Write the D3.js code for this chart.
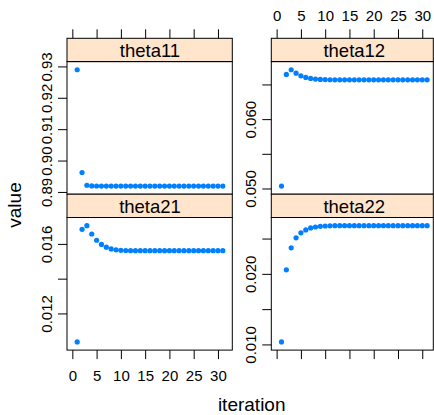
<!DOCTYPE html>
<html>
<head>
<meta charset="utf-8">
<script src="https://cdn.jsdelivr.net/npm/d3@7"></script>
<style>
    body { margin: 0; background: #ffffff; }
    svg { display: block; font-family: "Liberation Sans", Arial, Helvetica, sans-serif; }
</style>
</head>
<body>
<div id="chart"></div>
<script>
// data
const iterations = [1, 2, 3, 4, 5, 6, 7, 8, 9, 10, 11, 12, 13, 14, 15, 16,
    17, 18, 19, 20, 21, 22, 23, 24, 25, 26, 27, 28, 29, 30, 31];

const panelNames = ["theta11", "theta12", "theta21", "theta22"];

const theta11 = [0.92894, 0.89619, 0.89212, 0.89192, 0.89189, 0.89188, 0.89187, 0.89187,
    0.89187, 0.89187, 0.89187, 0.89187, 0.89187, 0.89187, 0.89187, 0.89187,
    0.89187, 0.89187, 0.89187, 0.89187, 0.89187, 0.89187, 0.89187, 0.89187,
    0.89187, 0.89187, 0.89187, 0.89187, 0.89187, 0.89187, 0.89187];
const theta12 = [0.05035, 0.06644, 0.06712, 0.06663, 0.06624, 0.06601, 0.06587, 0.06578,
    0.06573, 0.06570, 0.06568, 0.06567, 0.06566, 0.06566, 0.06566, 0.06566,
    0.06566, 0.06566, 0.06566, 0.06566, 0.06566, 0.06566, 0.06566, 0.06566,
    0.06566, 0.06566, 0.06566, 0.06566, 0.06566, 0.06566, 0.06566];
const theta21 = [0.01036, 0.01684, 0.01705, 0.01657, 0.01621, 0.01597, 0.01581, 0.01571,
    0.01566, 0.01563, 0.01562, 0.01561, 0.01561, 0.01561, 0.01561, 0.01561,
    0.01561, 0.01561, 0.01561, 0.01561, 0.01561, 0.01561, 0.01561, 0.01561,
    0.01561, 0.01561, 0.01561, 0.01561, 0.01561, 0.01561, 0.01561];
const theta22 = [0.01035, 0.02057, 0.02368, 0.02510, 0.02581, 0.02623, 0.02650, 0.02664,
    0.02673, 0.02678, 0.02681, 0.02682, 0.02683, 0.02683, 0.02683, 0.02683,
    0.02683, 0.02683, 0.02683, 0.02683, 0.02683, 0.02683, 0.02683, 0.02683,
    0.02683, 0.02683, 0.02683, 0.02683, 0.02683, 0.02683, 0.02683];

const xTicks = [0, 5, 10, 15, 20, 25, 30];
const theta11Ticks = [0.89, 0.90, 0.91, 0.92, 0.93];
const theta11Labels = [0.89, 0.90, 0.91, 0.92, 0.93];
const theta12Ticks = [0.050, 0.055, 0.060, 0.065];
const theta12Labels = [0.050, 0.060];
const theta21Ticks = [0.012, 0.014, 0.016];
const theta21Labels = [0.012, 0.016];
const theta22Ticks = [0.010, 0.015, 0.020, 0.025];
const theta22Labels = [0.010, 0.020];

const xLabelText = "iteration";
const yLabelText = "value";

// layout
const width = 434;
const height = 415;
const colX = [67, 271.3];
const colBorderWidth = [165.3, 162];
const panelWidth = 166;
const rowTop = [38.3, 194.2];
const stripHeight = 23.3;
const plotHeight = 132.6;
const tickSize = 9;
const axisPadding = 0.07;
const pointColor = "#0080ff";
const stripColor = "#ffe5cc";

const panels = [
    {name: panelNames[0], values: theta11, ticks: theta11Ticks, labels: theta11Labels, digits: 2, row: 0, col: 0},
    {name: panelNames[1], values: theta12, ticks: theta12Ticks, labels: theta12Labels, digits: 3, row: 0, col: 1},
    {name: panelNames[2], values: theta21, ticks: theta21Ticks, labels: theta21Labels, digits: 3, row: 1, col: 0},
    {name: panelNames[3], values: theta22, ticks: theta22Ticks, labels: theta22Labels, digits: 3, row: 1, col: 1}
];

function padExtent(values) {
    let ext = d3.extent(values);
    let pad = (ext[1] - ext[0]) * axisPadding;
    return [ext[0] - pad, ext[1] + pad];
}

function drawPanel(svg, panel) {
    let x0 = colX[panel.col];
    let top = rowTop[panel.row];
    let plotTop = top + stripHeight;
    let plotBottom = plotTop + plotHeight;

    let scaleX = d3.scaleLinear()
        .domain(padExtent(iterations))
        .range([x0, x0 + panelWidth]);
    let scaleY = d3.scaleLinear()
        .domain(padExtent(panel.values))
        .range([plotBottom, plotTop]);

    let g = svg.append("g").attr("id", `panel-${ panel.name }`);

    // strip
    g.append("rect")
        .attr("x", x0)
        .attr("y", top)
        .attr("width", colBorderWidth[panel.col])
        .attr("height", stripHeight)
        .attr("fill", stripColor)
        .attr("stroke", "#000")
        .attr("stroke-width", 1);
    g.append("text")
        .attr("x", x0 + panelWidth / 2)
        .attr("y", top + 19)
        .attr("text-anchor", "middle")
        .style("font-size", "18.5px")
        .text(panel.name);

    // plot box
    g.append("rect")
        .attr("x", x0)
        .attr("y", plotTop)
        .attr("width", colBorderWidth[panel.col])
        .attr("height", plotHeight)
        .attr("fill", "none")
        .attr("stroke", "#000")
        .attr("stroke-width", 1);

    // y axis, rotated labels, only some ticks labelled
    let yAxis = d3.axisLeft(scaleY)
        .tickValues(panel.ticks)
        .tickSize(tickSize)
        .tickFormat(data => panel.labels.some(l => Math.abs(l - data) < 1e-9) ? data.toFixed(panel.digits) : "");
    let yg = g.append("g")
        .attr("transform", `translate(${ x0 }, 0)`)
        .call(yAxis);
    yg.select(".domain").remove();
    yg.selectAll("text")
        .attr("transform", "rotate(-90)")
        .attr("x", 0)
        .attr("y", -(tickSize + 6))
        .attr("dy", null)
        .style("text-anchor", "middle")
        .style("font-size", "15px")
        .attr("fill", "#000");

    // x axis: top row on top, bottom row on bottom, labelled by column
    let labelled = (panel.row == 0 && panel.col == 1) || (panel.row == 1 && panel.col == 0);
    let xAxis = panel.row == 0 ? d3.axisTop(scaleX) : d3.axisBottom(scaleX);
    xAxis.tickValues(xTicks)
        .tickSize(tickSize)
        .tickPadding(panel.row == 0 ? 8.8 : 10.8)
        .tickFormat(data => labelled ? data.toString() : "");
    let xg = g.append("g")
        .attr("transform", `translate(0, ${ panel.row == 0 ? top : plotBottom })`)
        .call(xAxis);
    xg.select(".domain").remove();
    xg.selectAll("text")
        .style("font-size", "15px")
        .attr("fill", "#000");

    // points
    g.selectAll("circle")
        .data(iterations)
        .enter()
        .append("circle")
            .attr("cx", data => scaleX(data))
            .attr("cy", (data, index) => scaleY(panel.values[index]))
            .attr("r", 2.6)
            .attr("fill", pointColor);
}

let svg = d3.select("#chart")
    .append("svg")
        .attr("width", width)
        .attr("height", height);

panels.forEach(panel => drawPanel(svg, panel));

svg.append("text")
    .attr("x", 251.7)
    .attr("y", 411)
    .attr("text-anchor", "middle")
    .style("font-size", "19px")
    .text(xLabelText);

svg.append("text")
    .attr("transform", `rotate(-90 20.5 205)`)
    .attr("x", 20.5)
    .attr("y", 205)
    .attr("text-anchor", "middle")
    .style("font-size", "19px")
    .text(yLabelText);
</script>
</body>
</html>
